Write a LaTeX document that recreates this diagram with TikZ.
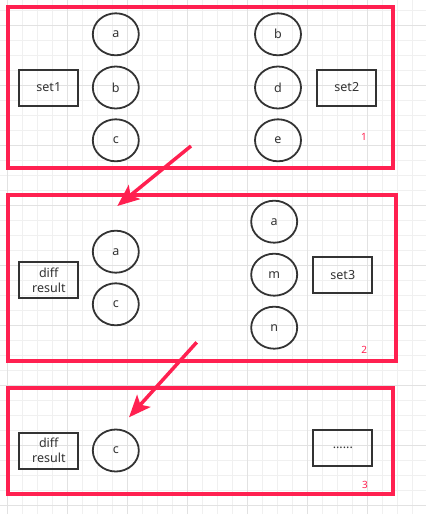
\documentclass[tikz,border=0pt]{standalone}
\usepackage{fontspec}
\setmainfont{Noto Sans}
\usetikzlibrary{arrows.meta,shapes.geometric}
\definecolor{redline}{RGB}{255,32,80}
\definecolor{inkc}{RGB}{51,51,51}
\definecolor{gridminor}{RGB}{240,240,240}
\definecolor{gridmajor}{RGB}{226,226,226}
\begin{document}
\begin{tikzpicture}[x=1pt,y=-1pt,
  setbox/.style={draw=inkc,line width=2pt,minimum width=59pt,minimum height=36pt,inner sep=0pt,font=\fontsize{12.5}{15}\selectfont,text=inkc,align=center},
  elem/.style={draw=inkc,line width=1.8pt,ellipse,minimum width=46pt,minimum height=42pt,inner sep=0pt,font=\fontsize{12.5}{15}\selectfont,text=inkc},
  frame/.style={draw=redline,line width=4.3pt},
  flow/.style={draw=redline,line width=3.5pt,-{Stealth[length=22pt,width=18pt,inset=5pt]}},
  tag/.style={text=redline,font=\fontsize{10}{11}\selectfont,inner sep=0pt}]
\useasboundingbox (0,0) rectangle (426,514);
\fill[white] (0,0) rectangle (426,514);
% grid
\foreach \i in {0,...,28} {\draw[gridminor,line width=0.9pt] ({7.7+15*\i},0) -- ({7.7+15*\i},514);}
\foreach \i in {0,...,34} {\draw[gridminor,line width=0.9pt] (0,{10.7+15*\i}) -- (426,{10.7+15*\i});}
\foreach \i in {0,...,7} {\draw[gridmajor,line width=0.9pt] ({7.7+60*\i},0) -- ({7.7+60*\i},514);}
\foreach \i in {0,...,8} {\draw[gridmajor,line width=0.9pt] (0,{25.7+60*\i}) -- (426,{25.7+60*\i});}
% frames
\draw[frame] (8.3,7.2) rectangle (393,168.3);
\draw[frame] (8.3,195.3) rectangle (396.3,361.3);
\draw[frame] (8.3,388.3) rectangle (393,493.8);
% section 1
\node[setbox] (set1) at (48.8,87.5) {set1};
\node[elem] (a1) at (115.8,34.3) {a};
\node[elem] (b1) at (115.8,87.5) {b};
\node[elem] (c1) at (115.8,140.3) {c};
\node[elem] (b2) at (278,34.3) {b};
\node[elem] (d2) at (278,87.5) {d};
\node[elem] (e2) at (278,140.3) {e};
\node[setbox] (set2) at (346.8,87.5) {set2};
\node[tag] (t1) at (364,136.7) {1};
% section 2
\node[setbox] (diff1) at (48.8,280.3) {diff\\result};
\node[elem] (a3) at (115.8,251.7) {a};
\node[elem] (c3) at (115.8,304.3) {c};
\node[elem] (a4) at (274.2,221.7) {a};
\node[elem] (m4) at (274.2,274.7) {m};
\node[elem] (n4) at (274.2,327.7) {n};
\node[setbox] (set3) at (342.8,274.7) {set3};
\node[tag] (t2) at (364.3,350) {2};
% section 3
\node[setbox] (diff2) at (48.8,450.5) {diff\\result};
\node[elem] (c5) at (115.8,450.5) {c};
\node[setbox] (more) at (342.8,447.7) {......};
\node[tag] (t3) at (365,485) {3};
% arrows
\coordinate (s1) at (191,146);
\coordinate (e1) at (117.3,206);
\coordinate (s2) at (196.7,342.3);
\coordinate (e2) at (129,417.3);
\draw[flow] (s1) -- (e1);
\draw[flow] (s2) -- (e2);
\end{tikzpicture}
\end{document}
